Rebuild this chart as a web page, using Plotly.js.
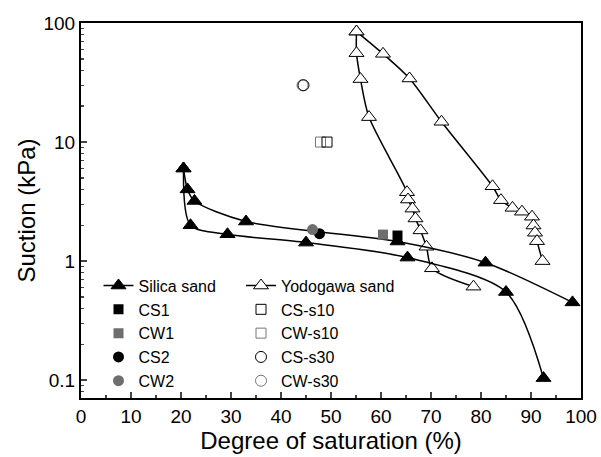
<!DOCTYPE html>
<html><head><meta charset="utf-8">
<script src="https://cdn.plot.ly/plotly-3.0.1.min.js"></script>
<style>html,body{margin:0;padding:0;background:#fff}#chart{width:601px;height:457px}</style>
</head><body><div id="chart"></div>
<script>
// Silica sand (filled triangles) – two branches
const silicaAX = [20.5, 21.9, 29.3, 45.0, 65.3, 85.0, 92.5];
const silicaAY = [6.0, 2.0, 1.68, 1.43, 1.07, 0.55, 0.104];
const silicaBX = [20.5, 21.3, 22.7, 33.0, 63.3, 80.9, 98.3];
const silicaBY = [6.0, 4.0, 3.2, 2.15, 1.46, 0.97, 0.45];
// Yodogawa sand (open triangles) – two branches
const yodoAX = [55.1, 55.1, 55.9, 57.6, 65.2, 65.4, 66.3, 66.9, 67.9, 69.1, 70.2, 78.5];
const yodoAY = [84.7, 55.8, 33.8, 16.2, 3.79, 3.29, 2.76, 2.28, 1.81, 1.32, 0.87, 0.61];
const yodoBX = [55.1, 60.4, 65.7, 72.1, 82.3, 84.0, 86.3, 88.2, 90.2, 90.5, 90.8, 91.2, 92.3];
const yodoBY = [84.7, 55.1, 34.2, 14.8, 4.25, 3.25, 2.8, 2.6, 2.36, 1.99, 1.73, 1.47, 1.0];
// Single specimens
const cs1X = [63.3], cs1Y = [1.64];
const cw1X = [60.4], cw1Y = [1.67];
const cs2X = [47.7], cs2Y = [1.70];
const cw2X = [46.3], cw2Y = [1.84];
const css10X = [49.2], css10Y = [10.0];
const cws10X = [47.9], cws10Y = [10.0];
const css30X = [44.5], css30Y = [30.0];
const cws30X = [44.3], cws30Y = [30.0];
// Axis ticks
const xTickVals = [0, 10, 20, 30, 40, 50, 60, 70, 80, 90, 100];
const yTickVals = [0.1, 1, 10, 100];
const yTickText = ['0.1', '1', '10', '100'];
const yMinorVals = [0.08, 0.09, 0.2, 0.3, 0.4, 0.5, 0.6, 0.7, 0.8, 0.9, 2, 3, 4, 5, 6, 7, 8, 9, 20, 30, 40, 50, 60, 70, 80, 90];

const GRAY = '#6e6e6e';
const FONT = 'Liberation Sans, Arial, sans-serif';

const lineStyle = {color: '#000', width: 1.5, shape: 'spline', smoothing: 0.8};
const triFilled = {symbol: 'triangle-up', size: 13, color: '#000', line: {color: '#000', width: 1}};
const triOpen = {symbol: 'triangle-up', size: 13, color: '#fff', line: {color: '#000', width: 1}};

const traces = [
  {x: yodoAX, y: yodoAY, mode: 'lines+markers', line: lineStyle, marker: triOpen, name: 'Yodogawa sand', legend: 'legend2', showlegend: true, legendrank: 1},
  {x: yodoBX, y: yodoBY, mode: 'lines+markers', line: lineStyle, marker: triOpen, name: 'Yodogawa sand b', showlegend: false},
  {x: silicaAX, y: silicaAY, mode: 'lines+markers', line: lineStyle, marker: triFilled, name: 'Silica sand', legend: 'legend', showlegend: true},
  {x: silicaBX, y: silicaBY, mode: 'lines+markers', line: lineStyle, marker: triFilled, name: 'Silica sand b', showlegend: false},
  {x: cs1X, y: cs1Y, mode: 'markers', marker: {symbol: 'square', size: 10, color: '#000'}, name: 'CS1', legend: 'legend'},
  {x: cw1X, y: cw1Y, mode: 'markers', marker: {symbol: 'square', size: 10, color: GRAY}, name: 'CW1', legend: 'legend'},
  {x: cs2X, y: cs2Y, mode: 'markers', marker: {symbol: 'circle', size: 11, color: '#000'}, name: 'CS2', legend: 'legend'},
  {x: cw2X, y: cw2Y, mode: 'markers', marker: {symbol: 'circle', size: 11, color: GRAY}, name: 'CW2', legend: 'legend'},
  {x: cws10X, y: cws10Y, mode: 'markers', marker: {symbol: 'square-open', size: 10, color: '#777', line: {width: 1}}, name: 'CW-s10', legend: 'legend2', legendrank: 3},
  {x: css10X, y: css10Y, mode: 'markers', marker: {symbol: 'square-open', size: 10, color: '#000', line: {width: 1}}, name: 'CS-s10', legend: 'legend2', legendrank: 2},
  {x: cws30X, y: cws30Y, mode: 'markers', marker: {symbol: 'circle-open', size: 11, color: '#777', line: {width: 1}}, name: 'CW-s30', legend: 'legend2', legendrank: 5},
  {x: css30X, y: css30Y, mode: 'markers', marker: {symbol: 'circle-open', size: 11, color: '#000', line: {width: 1}}, name: 'CS-s30', legend: 'legend2', legendrank: 4}
];

const layout = {
  width: 601, height: 457,
  margin: {l: 81, r: 20, t: 23, b: 59},
  paper_bgcolor: '#fff', plot_bgcolor: '#fff',
  font: {family: FONT, color: '#000', size: 19},
  xaxis: {
    range: [0, 100], tickvals: xTickVals, ticks: 'inside', ticklen: 6, tickwidth: 1.5,
    showline: true, linewidth: 2, linecolor: '#000', mirror: true, showgrid: false, zeroline: false,
    tickfont: {size: 19, family: FONT},
    minor: {ticks: 'inside', ticklen: 3, tickwidth: 1.5, dtick: 5, tick0: 0, showgrid: false},
    title: {text: 'Degree of saturation (%)', font: {size: 24, family: FONT}, standoff: 2}
  },
  yaxis: {
    type: 'log', range: [-1.15, 2], tickvals: yTickVals, ticktext: yTickText,
    ticks: 'inside', ticklen: 6, tickwidth: 1.5,
    showline: true, linewidth: 2, linecolor: '#000', mirror: true, showgrid: false, zeroline: false,
    tickfont: {size: 19, family: FONT},
    minor: {ticks: 'inside', ticklen: 3, tickwidth: 1.5, tickvals: yMinorVals, showgrid: false},
    title: {text: 'Suction (kPa)', font: {size: 24, family: FONT}, standoff: 1}
  },
  legend: {x: 0.035, y: 0.345, xanchor: 'left', yanchor: 'top', font: {size: 16, family: FONT}, bgcolor: 'rgba(0,0,0,0)', tracegroupgap: 0, traceorder: 'normal'},
  legend2: {x: 0.32, y: 0.345, xanchor: 'left', yanchor: 'top', font: {size: 16, family: FONT}, bgcolor: 'rgba(0,0,0,0)', tracegroupgap: 0, traceorder: 'normal'},
  showlegend: true
};

Plotly.newPlot('chart', traces, layout, {displayModeBar: false, staticPlot: true});
</script></body></html>
